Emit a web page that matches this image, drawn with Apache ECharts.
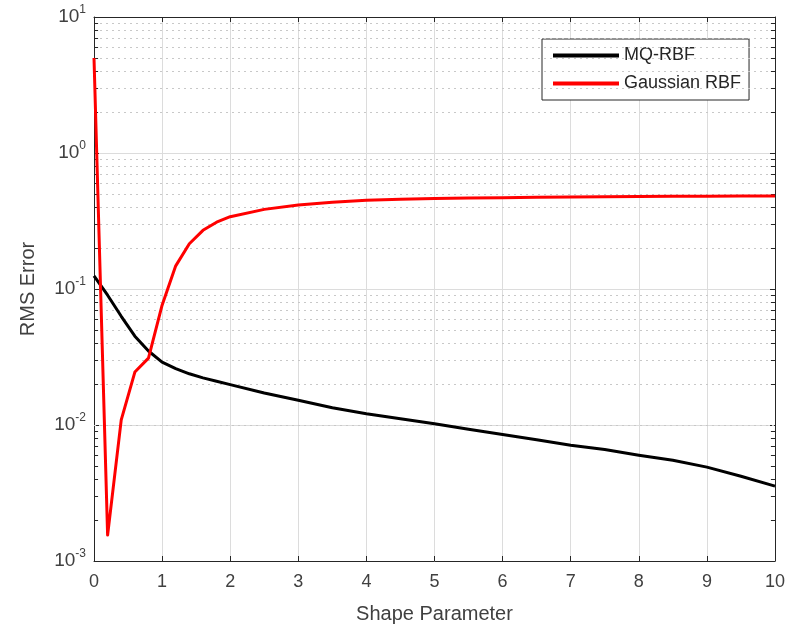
<!DOCTYPE html>
<html>
<head>
<meta charset="utf-8">
<script src="https://cdn.jsdelivr.net/npm/echarts@6/dist/echarts.min.js"></script>
<style>
  html, body { margin: 0; padding: 0; background: #fff; }
  #chart { width: 789px; height: 633px; }
</style>
</head>
<body>
<div id="chart"></div>
<script>
// shape parameter samples
const shapeParam = [0, 0.2, 0.4, 0.6, 0.8, 1.0, 1.2, 1.4, 1.6, 1.8, 2.0, 2.5, 3.0, 3.5, 4.0, 4.5, 5.0, 5.5, 6.0, 6.5, 7.0, 7.5, 8.0, 8.5, 9.0, 9.5, 10];
// RMS error
const mqRbf = [0.125, 0.09, 0.063, 0.045, 0.035, 0.029, 0.026, 0.0238, 0.0222, 0.021, 0.0198, 0.0172, 0.0152, 0.0134, 0.0121, 0.0111, 0.0102, 0.0093, 0.0085, 0.0078, 0.0071, 0.0066, 0.006, 0.0055, 0.0049, 0.0042, 0.00355];
const gaussRbf = [5.0, 0.00155, 0.0109, 0.0245, 0.031, 0.076, 0.148, 0.215, 0.27, 0.31, 0.34, 0.385, 0.415, 0.434, 0.45, 0.457, 0.463, 0.466, 0.469, 0.472, 0.475, 0.477, 0.479, 0.48, 0.481, 0.482, 0.483];
const seriesNames = ['MQ-RBF', 'Gaussian RBF'];

const axisColor = '#262626';
const fontFam = '"Liberation Sans", Arial, Helvetica, sans-serif';

// minor log ticks 2..9 in each decade
let minorVals = [];
for (let d = -3; d < 1; d++) {
  for (let m = 2; m <= 9; m++) minorVals.push(m * Math.pow(10, d));
}
let minorGrid = minorVals.map(v => ({ yAxis: v }));
let minorTicks = [];
minorVals.forEach(v => {
  minorTicks.push([{ coord: [0, v] }, { coord: [0.06, v] }]);
  minorTicks.push([{ coord: [10, v] }, { coord: [9.94, v] }]);
});

const pair = (xs, ys) => xs.map((x, i) => [x, ys[i]]);

let mychart = echarts.init(document.getElementById('chart'));
mychart.setOption({
  animation: false,
  textStyle: { fontFamily: fontFam },
  grid: { left: 94, right: 14, top: 17, bottom: 72 },
  legend: {
    data: seriesNames,
    orient: 'vertical',
    left: 542,
    top: 39,
    padding: [6, 8, 6, 11],
    itemGap: 7,
    itemWidth: 66,
    itemHeight: 4,
    icon: 'rect',
    backgroundColor: '#fff',
    borderColor: axisColor,
    borderWidth: 1,
    borderRadius: 0,
    textStyle: { fontSize: 18, color: axisColor, fontFamily: fontFam, lineHeight: 21 }
  },
  xAxis: [
    {
      type: 'value',
      min: 0, max: 10, interval: 1,
      name: 'Shape Parameter',
      nameLocation: 'middle',
      nameGap: 43,
      nameTextStyle: { fontSize: 20, color: '#404040', fontFamily: fontFam },
      axisLine: { show: true, lineStyle: { color: axisColor, width: 1 } },
      axisTick: { show: true, inside: true, length: 5, lineStyle: { color: axisColor } },
      axisLabel: { fontSize: 18, color: '#404040', margin: 12, fontFamily: fontFam },
      splitLine: { show: true, lineStyle: { color: '#dcdcdc', width: 1 } }
    },
    {
      type: 'value',
      position: 'top',
      min: 0, max: 10, interval: 1,
      axisLine: { show: true, onZero: false, lineStyle: { color: axisColor, width: 1 } },
      axisTick: { show: true, inside: true, length: 5, lineStyle: { color: axisColor } },
      axisLabel: { show: false },
      splitLine: { show: false }
    }
  ],
  yAxis: [
    {
      type: 'log',
      logBase: 10,
      min: 0.001, max: 10,
      interval: 1,
      name: 'RMS Error',
      nameLocation: 'middle',
      nameGap: 56,
      nameTextStyle: { fontSize: 20, color: '#404040', fontFamily: fontFam },
      axisLine: { show: true, lineStyle: { color: axisColor, width: 1 } },
      axisTick: { show: true, inside: true, length: 5, lineStyle: { color: axisColor } },
      axisLabel: {
        margin: 8,
        color: '#404040',
        formatter: v => '{b|10}{e|' + Math.round(Math.log10(v)) + '}',
        rich: {
          b: { fontSize: 19, lineHeight: 26, color: '#404040', fontFamily: fontFam },
          e: { fontSize: 12, verticalAlign: 'top', lineHeight: 14, color: '#404040', fontFamily: fontFam }
        }
      },
      splitLine: { show: true, lineStyle: { color: '#dcdcdc', width: 1 } }
    },
    {
      type: 'log',
      logBase: 10,
      position: 'right',
      min: 0.001, max: 10,
      interval: 1,
      axisLine: { show: true, onZero: false, lineStyle: { color: axisColor, width: 1 } },
      axisTick: { show: true, inside: true, length: 5, lineStyle: { color: axisColor } },
      axisLabel: { show: false },
      splitLine: { show: false }
    }
  ],
  series: [
    {
      name: 'minor',
      type: 'line',
      data: [],
      silent: true,
      z: 1,
      markLine: {
        silent: true,
        symbol: 'none',
        label: { show: false },
        animation: false,
        lineStyle: { color: '#c8c8c8', type: [2, 4], width: 1 },
        data: minorGrid
      }
    },
    {
      name: 'minorTicks',
      type: 'line',
      data: [],
      silent: true,
      z: 3,
      markLine: {
        silent: true,
        symbol: 'none',
        label: { show: false },
        animation: false,
        lineStyle: { color: axisColor, type: 'solid', width: 1 },
        data: minorTicks
      }
    },
    {
      name: seriesNames[0],
      type: 'line',
      data: pair(shapeParam, mqRbf),
      showSymbol: false,
      symbol: 'none',
      smooth: false,
      z: 5,
      itemStyle: { color: '#000000' },
      lineStyle: { color: '#000000', width: 3, join: 'round' }
    },
    {
      name: seriesNames[1],
      type: 'line',
      data: pair(shapeParam, gaussRbf),
      showSymbol: false,
      symbol: 'none',
      smooth: false,
      z: 6,
      itemStyle: { color: '#ff0000' },
      lineStyle: { color: '#ff0000', width: 3, join: 'round' }
    }
  ]
});
</script>
</body>
</html>
